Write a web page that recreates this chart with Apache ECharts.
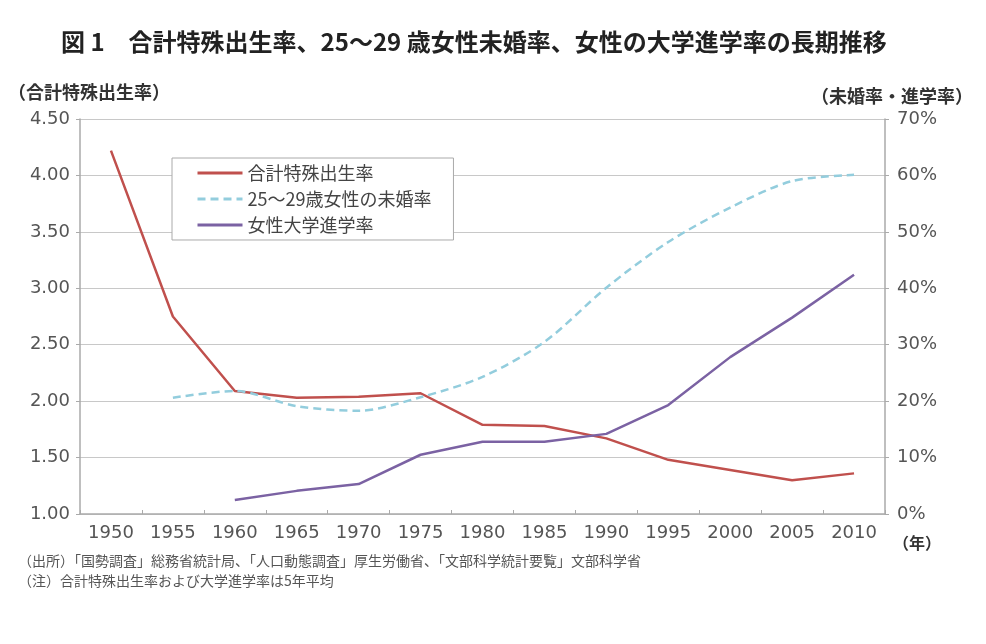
<!DOCTYPE html>
<html><head><meta charset="utf-8">
<script src="https://cdn.jsdelivr.net/npm/echarts@6/dist/echarts.min.js"></script>
<style>html,body{margin:0;padding:0;background:#fff}#c{width:986px;height:644px}</style>
</head><body><div id="c"></div>
<script>
const years = ['1950','1955','1960','1965','1970','1975','1980','1985','1990','1995','2000','2005','2010'];
const tfr = [4.22, 2.75, 2.09, 2.03, 2.04, 2.07, 1.79, 1.78, 1.67, 1.48, 1.39, 1.30, 1.36];
const unmarried = [null, 20.6, 21.8, 19.1, 18.3, 20.7, 24.3, 30.5, 40.1, 48.2, 54.3, 59.0, 60.1];
const university = [null, null, 2.5, 4.1, 5.3, 10.5, 12.8, 12.8, 14.2, 19.3, 27.8, 34.8, 42.4];
const names = ['合計特殊出生率', '25～29歳女性の未婚率', '女性大学進学率'];

const font = '"Noto Sans CJK JP", "Noto Sans", sans-serif';
const numFont = '"DejaVu Sans", sans-serif';
const chart = echarts.init(document.getElementById('c'));
chart.setOption({
  backgroundColor: '#fff',
  animation: false,
  textStyle: { fontFamily: font },
  title: {
    text: '図 1　合計特殊出生率、25～29 歳女性未婚率、女性の大学進学率の長期推移',
    left: 56, top: 25,
    textStyle: { fontSize: 24, fontWeight: 'bold', color: '#222', fontFamily: font }
  },
  grid: { left: 80, right: 101, top: 119, bottom: 130 },
  legend: {
    data: names,
    orient: 'vertical',
    left: 172, top: 158,
    itemWidth: 45, itemHeight: 10, itemGap: 8,
    padding: [6, 22, 6, 24],
    borderColor: '#aaa', borderWidth: 1,
    backgroundColor: '#fff',
    itemStyle: { opacity: 0 },
    lineStyle: { width: 3 },
    textStyle: { fontSize: 18, color: '#444', fontFamily: font }
  },
  xAxis: {
    type: 'category', data: years, boundaryGap: true,
    axisLine: { lineStyle: { color: '#aaa', width: 1.5 } },
    axisTick: { show: true, inside: true, length: 4, lineStyle: { color: '#aaa' } },
    axisLabel: { fontSize: 18, color: '#555', margin: 10, fontFamily: numFont }
  },
  yAxis: [
    {
      type: 'value', min: 1, max: 4.5, interval: 0.5,
      name: '（合計特殊出生率）', nameLocation: 'end', nameGap: 18,
      nameTextStyle: { fontSize: 18, color: '#333', align: 'left', padding: [0, 0, 0, -72], fontWeight: 'bold' },
      axisLine: { show: true, lineStyle: { color: '#aaa', width: 1.5 } },
      axisTick: { show: true, length: 4, lineStyle: { color: '#aaa' } },
      axisLabel: { fontSize: 18, color: '#555', margin: 10, fontFamily: numFont, formatter: v => v.toFixed(2) },
      splitLine: { lineStyle: { color: '#c8c8c8', width: 1.2 } }
    },
    {
      type: 'value', min: 0, max: 70, interval: 10,
      name: '（未婚率・進学率）', nameLocation: 'end', nameGap: 14,
      nameTextStyle: { fontSize: 18, color: '#333', align: 'right', padding: [0, -88, 0, 0], fontWeight: 'bold' },
      axisLine: { show: true, lineStyle: { color: '#aaa', width: 1.5 } },
      axisTick: { show: true, length: 4, lineStyle: { color: '#aaa' } },
      axisLabel: { fontSize: 18, color: '#555', margin: 12, fontFamily: numFont, formatter: '{value}%' },
      splitLine: { show: false }
    }
  ],
  graphic: [
    { type: 'text', left: 893, top: 535, style: { text: '（年）', fontSize: 16, fontWeight: 'bold', fill: '#333', fontFamily: font } },
    { type: 'text', left: 18, top: 554, style: { text: '（出所）「国勢調査」総務省統計局、「人口動態調査」厚生労働省、「文部科学統計要覧」文部科学省', fontSize: 14, fill: '#555', fontFamily: font } },
    { type: 'text', left: 18, top: 574, style: { text: '（注）合計特殊出生率および大学進学率は5年平均', fontSize: 14, fill: '#555', fontFamily: font } }
  ],
  series: [
    { name: names[0], type: 'line', yAxisIndex: 0, data: tfr, symbol: 'none',
      lineStyle: { color: '#c0504d', width: 2.5 }, itemStyle: { color: '#c0504d' } },
    { name: names[1], type: 'line', yAxisIndex: 1, data: unmarried, symbol: 'none', smooth: 0.3,
      lineStyle: { color: '#93cddd', width: 2.5, type: [8, 5] }, itemStyle: { color: '#93cddd' } },
    { name: names[2], type: 'line', yAxisIndex: 1, data: university, symbol: 'none',
      lineStyle: { color: '#7b62a3', width: 2.5 }, itemStyle: { color: '#7b62a3' } }
  ]
});
</script></body></html>
